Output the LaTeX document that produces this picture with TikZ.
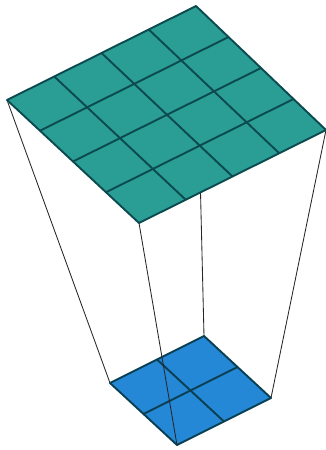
\documentclass[tikz,border=0pt]{standalone}
\usetikzlibrary{calc}
\definecolor{tealfill}{HTML}{2A9D94}
\definecolor{tealedge}{HTML}{0B4A4E}
\definecolor{bluefill}{HTML}{2488D6}
\definecolor{blueedge}{HTML}{0A3F52}
\tikzset{
  link/.style={draw=black!85,line width=0.85pt},
  bigplane/.style={draw=tealedge,fill=tealfill,line width=1.9pt,line join=round},
  biggrid/.style={draw=tealedge,line width=1.9pt},
  smallplane/.style={draw=blueedge,fill=bluefill,line width=1.9pt,line join=round},
  smallgrid/.style={draw=blueedge,line width=1.9pt},
}
\begin{document}
\begin{tikzpicture}[x=1pt,y=-1pt]
\useasboundingbox (0,0) rectangle (326,450);
\coordinate (bl) at (7,100);
\coordinate (bt) at (196,6);
\coordinate (br) at (326,130);
\coordinate (bb) at (139,223);
\coordinate (sl) at (110,383);
\coordinate (st) at (204,336);
\coordinate (sr) at (271,398);
\coordinate (sb) at (177,445);
% links hidden by the planes
\draw[link] (bt) -- (st);
\draw[link] (bl) -- (sl);
\draw[link] (br) -- (sr);
% small plane
\draw[smallplane] (sl) -- (st) -- (sr) -- (sb) -- cycle;
\draw[smallgrid] ($(sl)!.5!(st)$) -- ($(sb)!.5!(sr)$);
\draw[smallgrid] ($(sl)!.5!(sb)$) -- ($(st)!.5!(sr)$);
% front link passes over the small plane
\draw[link] (bb) -- (sb);
% big plane
\draw[bigplane] (bl) -- (bt) -- (br) -- (bb) -- cycle;
\foreach \f in {.25,.5,.75}{
  \draw[biggrid] ($(bl)!\f!(bt)$) -- ($(bb)!\f!(br)$);
  \draw[biggrid] ($(bl)!\f!(bb)$) -- ($(bt)!\f!(br)$);
}
\end{tikzpicture}
\end{document}
